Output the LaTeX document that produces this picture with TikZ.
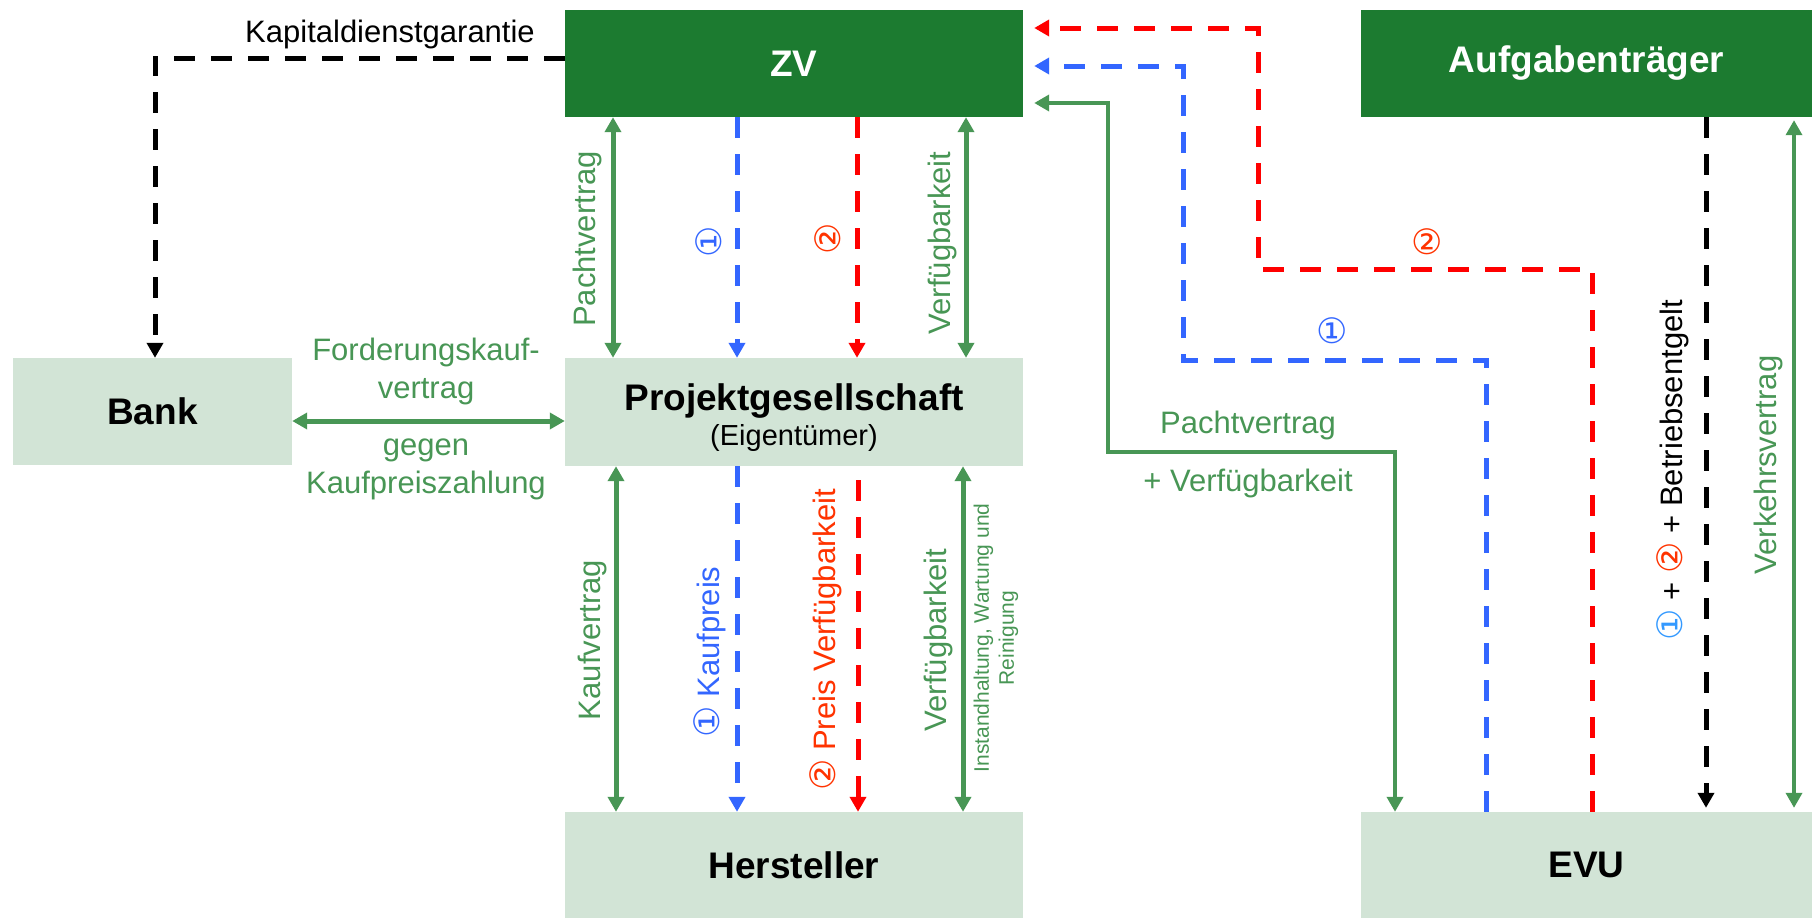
\documentclass[tikz,border=0pt]{standalone}
\usepackage{fontspec}
\setmainfont{Liberation Sans}
\newfontfamily\djv{DejaVu Sans}
\usetikzlibrary{arrows.meta}
\definecolor{dkgreen}{RGB}{28,123,48}
\definecolor{ltgreen}{RGB}{210,228,214}
\definecolor{mgreen}{RGB}{72,150,85}
\definecolor{lblue}{RGB}{51,102,255}
\definecolor{lred}{RGB}{255,0,0}
\definecolor{ored}{RGB}{255,51,0}
\definecolor{cblue}{RGB}{51,153,255}
\newcommand{\circnum}[1]{{\djv\fontsize{35}{40}\selectfont #1}}
\begin{document}
\begin{tikzpicture}[x=1pt,y=-1pt,
  >={Triangle[length=15pt,width=16pt]},
  darkbox/.style={rectangle, fill=dkgreen, text=white, inner sep=0pt, font=\fontsize{37}{41}\selectfont\bfseries},
  lightbox/.style={rectangle, fill=ltgreen, text=black, inner sep=0pt, font=\fontsize{37}{41}\selectfont\bfseries},
  gline/.style={draw=mgreen, line width=5pt},
  dline/.style={line width=5pt, dash pattern=on 21pt off 16pt},
  glab/.style={text=mgreen, inner sep=0pt, font=\fontsize{31}{37}\selectfont},
  plab/.style={inner sep=0pt, font=\fontsize{31}{37}\selectfont}
]
\useasboundingbox (0,0) rectangle (1812,918);

% boxes
\node[darkbox, minimum width=458pt, minimum height=107pt] (zv) at (794,63.5) {ZV};
\node[darkbox, minimum width=451pt, minimum height=107pt] (auf) at (1586.5,63.5) {Aufgabenträger};
\node[lightbox, minimum width=279pt, minimum height=107pt] (bank) at (152.5,411.5) {Bank};
\node[lightbox, minimum width=458pt, minimum height=108pt, align=center] (pg) at (794,412)
  {\rule{0pt}{38pt}Projektgesellschaft\\[-6pt]{\fontsize{29}{33}\selectfont\mdseries (Eigentümer)}};
\node[lightbox, minimum width=458pt, minimum height=106pt] (hers) at (794,865) {Hersteller};
\node[lightbox, minimum width=451pt, minimum height=106pt] (evu) at (1586.5,865) {EVU};

% column coordinates
\coordinate (c1) at (613,0);
\coordinate (c2) at (737,0);
\coordinate (c3) at (857,0);
\coordinate (c4) at (966,0);
\coordinate (c5) at (616,0);
\coordinate (c6) at (963,0);
\coordinate (c3l) at (858,480);
\coordinate (rF) at (0,421);
\coordinate (rK) at (155,58);
\coordinate (gR1) at (1108,103);
\coordinate (gR2) at (1395,452);
\coordinate (bR1) at (1183,66);
\coordinate (bR2) at (1486,360);
\coordinate (rR1) at (1258,28);
\coordinate (rR2) at (1592,269);
\coordinate (kR) at (1706,0);
\coordinate (vR) at (1794,0);

% ZV - Projektgesellschaft
\draw[gline,<->] (zv.south -| c1) -- (pg.north -| c1);
\draw[dline,draw=lblue,->] (zv.south -| c2) -- (pg.north -| c2);
\draw[dline,draw=lred,->] (zv.south -| c3) -- (pg.north -| c3);
\draw[gline,<->] (zv.south -| c4) -- (pg.north -| c4);

% Projektgesellschaft - Hersteller
\draw[gline,<->] (pg.south -| c5) -- (hers.north -| c5);
\draw[dline,draw=lblue,->] (pg.south -| c2) -- (hers.north -| c2);
\draw[dline,draw=lred,->] (c3l) -- (hers.north -| c3l);
\draw[gline,<->] (pg.south -| c6) -- (hers.north -| c6);

% Bank - Projektgesellschaft
\draw[gline,<->] (bank.east |- rF) -- (pg.west |- rF);

% Kapitaldienstgarantie
\draw[dline,draw=black,->] (zv.west |- rK) -| (bank.north -| rK);

% right side
\draw[gline,line width=4pt,<->,shorten <=11pt] (zv.east |- gR1) -- (gR1) |- (gR2) -- (evu.north -| gR2);
\draw[dline,draw=lblue,->,shorten >=11pt] (evu.north -| bR2) -- (bR2) -| (bR1) -- (zv.east |- bR1);
\draw[dline,draw=lred,->,shorten >=11pt] (evu.north -| rR2) -- (rR2) -| (rR1) -- (zv.east |- rR1);
\draw[dline,draw=black,->,shorten >=4pt] (auf.south -| kR) -- (evu.north -| kR);
\draw[gline,line width=3.5pt,<->,shorten <=4pt,shorten >=3pt] (evu.north -| vR) -- (auf.south -| vR);

% labels
\node[plab, anchor=base] (lKap) at (390,42) {Kapitaldienstgarantie};
\node[glab, rotate=90] (lP1) at (587,239) {Pachtvertrag};
\node[inner sep=0pt, rotate=90, text=lblue] (lB1) at (709,242) {\circnum{①}};
\node[inner sep=0pt, rotate=90, text=ored] (lR1) at (828,239) {\circnum{②}};
\node[glab, rotate=90] (lV1) at (942,243) {Verfügbarkeit};

\node[glab, rotate=90] (lK) at (592,640) {Kaufvertrag};
\node[plab, rotate=90, text=lblue] (lB2) at (710,652) {\circnum{①} Kaufpreis};
\node[plab, rotate=90, text=ored] (lR2) at (826,640) {\circnum{②} Preis Verfügbarkeit};
\node[glab, rotate=90] (lV2) at (938,640) {Verfügbarkeit};
\node[glab, rotate=90, align=center, font=\fontsize{21}{25}\selectfont] (lI) at (996,638) {Instandhaltung, Wartung und\\Reinigung};

\node[glab, anchor=base] (lF1) at (426,360) {Forderungskauf-};
\node[glab, anchor=base] (lF2) at (426,398) {vertrag};
\node[glab, anchor=base] (lF3) at (426,455) {gegen};
\node[glab, anchor=base] (lF4) at (426,493) {Kaufpreiszahlung};

\node[glab, anchor=base] (lP2) at (1248,433) {Pachtvertrag};
\node[glab, anchor=base] (lV3) at (1248,491) {+ Verfügbarkeit};
\node[inner sep=0pt, text=ored] (lR3) at (1427,242) {\circnum{②}};
\node[inner sep=0pt, text=lblue] (lB3) at (1332,331) {\circnum{①}};

\node[plab, rotate=90] (lBE) at (1673,470) {{\color{cblue}\circnum{①}} + {\color{ored}\circnum{②}} + Betriebsentgelt};
\node[glab, rotate=90] (lVV) at (1768,465) {Verkehrsvertrag};
\end{tikzpicture}
\end{document}
